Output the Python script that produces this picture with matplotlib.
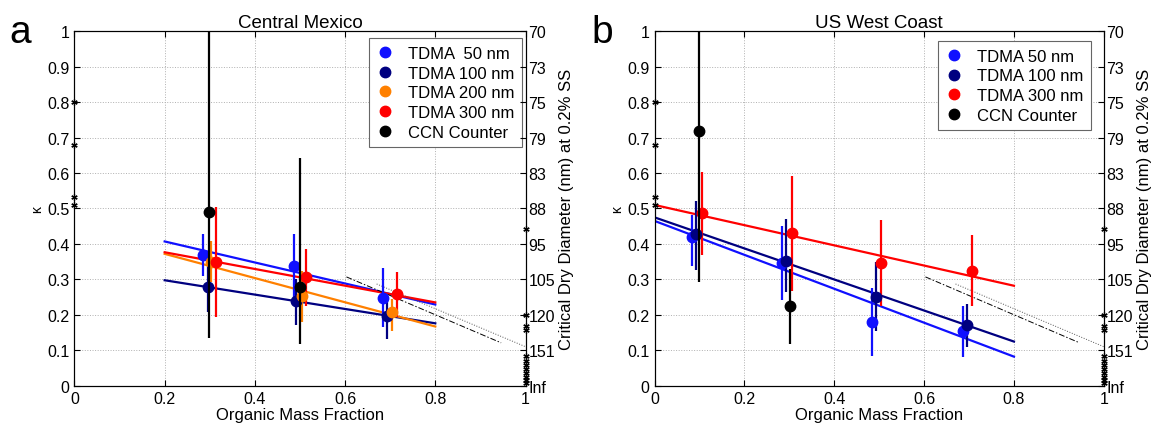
import numpy as np
import matplotlib
matplotlib.use('Agg')
import matplotlib.pyplot as plt
from matplotlib.lines import Line2D

plt.rcParams['font.family'] = ['Liberation Sans', 'DejaVu Sans']

# ---- Central Mexico (panel a) ----
mex_labels = ['TDMA  50 nm', 'TDMA 100 nm', 'TDMA 200 nm', 'TDMA 300 nm', 'CCN Counter']
mex_colors = ['#1010ff', '#000080', '#ff8000', '#ff0000', '#000000']
mex_x = [[0.285, 0.486, 0.684],
         [0.296, 0.491, 0.693],
         [0.303, 0.504, 0.703],
         [0.314, 0.513, 0.714],
         [0.299, 0.501]]
mex_k = [[0.369, 0.338, 0.248],
         [0.278, 0.238, 0.196],
         [0.350, 0.252, 0.209],
         [0.350, 0.306, 0.258],
         [0.491, 0.278]]
mex_lo = [[0.309, 0.247, 0.165],
          [0.207, 0.171, 0.132],
          [0.292, 0.179, 0.155],
          [0.193, 0.224, 0.193],
          [0.135, 0.118]]
mex_hi = [[0.428, 0.428, 0.331],
          [0.350, 0.300, 0.240],
          [0.409, 0.325, 0.245],
          [0.505, 0.386, 0.320],
          [1.050, 0.643]]
mex_fit_x = [0.2, 0.8]
mex_fit = [[0.407, 0.229],
           [0.2975, 0.176],
           [0.372, 0.167],
           [0.3765, 0.235]]

# ---- US West Coast (panel b) ----
usw_labels = ['TDMA 50 nm', 'TDMA 100 nm', 'TDMA 300 nm', 'CCN Counter']
usw_colors = ['#1010ff', '#000080', '#ff0000', '#000000']
usw_x = [[0.084, 0.284, 0.485, 0.686],
         [0.093, 0.292, 0.494, 0.696],
         [0.105, 0.305, 0.505, 0.706],
         [0.0997, 0.301]]
usw_k = [[0.419, 0.346, 0.181, 0.153],
         [0.428, 0.352, 0.250, 0.170],
         [0.486, 0.431, 0.346, 0.325],
         [0.718, 0.226]]
usw_lo = [[0.339, 0.243, 0.085, 0.080],
          [0.327, 0.264, 0.153, 0.108],
          [0.369, 0.268, 0.226, 0.226],
          [0.292, 0.118]]
usw_hi = [[0.482, 0.451, 0.276, 0.226],
          [0.522, 0.470, 0.349, 0.231],
          [0.602, 0.593, 0.467, 0.4245],
          [1.050, 0.330]]
usw_fit_x = [0.0, 0.8]
usw_fit = [[0.465, 0.082],
           [0.475, 0.1245],
           [0.510, 0.282]]

# reference curves (same on both panels)
dash_x = [0.603, 0.946]
dash_k = [0.307, 0.121]
dot_x = [0.67, 1.0]
dot_k = [0.287, 0.110]

# asterisks on the axis edges
left_stars = [0.80, 0.68, 0.532, 0.51]
right_stars = [0.442, 0.20, 0.168, 0.158, 0.083, 0.07, 0.058, 0.047, 0.036, 0.025, 0.015, 0.008]

diam_labels = ['Inf', '151', '120', '105', '95', '88', '83', '79', '75', '73', '70']
kappa_ticks = np.linspace(0, 1, 11)


def draw_panel(rect, title, letter, letter_x, xs, ks, los, his, colors, labels,
               fit_x, fits, leg_bbox):
    ax = fig.add_axes(rect)
    for x, k, lo, hi, c in zip(xs, ks, los, his, colors):
        x = np.array(x); k = np.array(k)
        yerr = [k - np.array(lo), np.array(hi) - k]
        ax.errorbar(x, k, yerr=yerr, fmt='o', color=c, ms=7.5, elinewidth=1.6,
                    capsize=0, zorder=4 if c == '#000000' else 3)
    for f, c in zip(fits, colors):
        ax.plot(fit_x, f, '-', color=c, lw=1.6, zorder=2)
    ax.plot(dash_x, dash_k, '--', color='k', lw=0.7, dashes=(6, 2, 1.5, 2))
    ax.plot(dot_x, dot_k, ':', color='#555555', lw=0.7)
    ax.plot(np.zeros(len(left_stars)), left_stars, ls='none', marker=(6, 2, 0),
            ms=4.5, color='k', mew=0.9, clip_on=False)
    ax.plot(np.ones(len(right_stars)), right_stars, ls='none', marker=(6, 2, 0),
            ms=4.5, color='k', mew=0.9, clip_on=False)

    ax.set_xlim(0, 1)
    ax.set_ylim(0, 1)
    ax.set_xticks(np.linspace(0, 1, 6))
    ax.set_xticklabels(['0', '0.2', '0.4', '0.6', '0.8', '1'])
    ax.set_yticks(kappa_ticks)
    ax.set_yticklabels(['0'] + ['%.1f' % v for v in kappa_ticks[1:-1]] + ['1'])
    ax.tick_params(direction='in', labelsize=11.5, length=4, top=True)
    ax.grid(True, ls=':', color='#b0b0b0', lw=0.7)
    ax.set_xlabel('Organic Mass Fraction', fontsize=12, labelpad=1)
    ax.set_ylabel('\u03ba', fontsize=10, labelpad=2)
    ax.set_title(title, fontsize=13.5, pad=3)

    ax2 = ax.twinx()
    ax2.set_ylim(0, 1)
    ax2.set_yticks(kappa_ticks)
    ax2.set_yticklabels(diam_labels)
    ax2.tick_params(direction='in', labelsize=11.5, length=4, pad=2)
    ax2.set_ylabel('Critical Dry Diameter (nm) at 0.2% SS', fontsize=12, labelpad=3)

    handles = [Line2D([], [], ls='none', marker='o', ms=7.5, color=c) for c in colors]
    leg = ax.legend(handles, labels, loc='upper right', bbox_to_anchor=leg_bbox,
                    borderaxespad=0, fontsize=12, handlelength=1.0,
                    handletextpad=0.9, borderpad=0.45, labelspacing=0.28,
                    fancybox=False, framealpha=1, edgecolor='#666666')
    leg.get_frame().set_linewidth(0.8)
    leg.set_zorder(10)
    fig.text(letter_x, 0.899, letter, fontsize=28, va='baseline')
    return ax


fig = plt.figure(figsize=(11.58, 4.27), dpi=100)
draw_panel([0.0643, 0.0944, 0.3895, 0.830], 'Central Mexico', 'a', 0.008,
           mex_x, mex_k, mex_lo, mex_hi, mex_colors, mex_labels,
           mex_fit_x, mex_fit, (0.993, 0.980))
draw_panel([0.5652, 0.0944, 0.3880, 0.830], 'US West Coast', 'b', 0.511,
           usw_x, usw_k, usw_lo, usw_hi, usw_colors, usw_labels,
           usw_fit_x, usw_fit, (0.972, 0.972))
fig.savefig('out.png', dpi=100)
